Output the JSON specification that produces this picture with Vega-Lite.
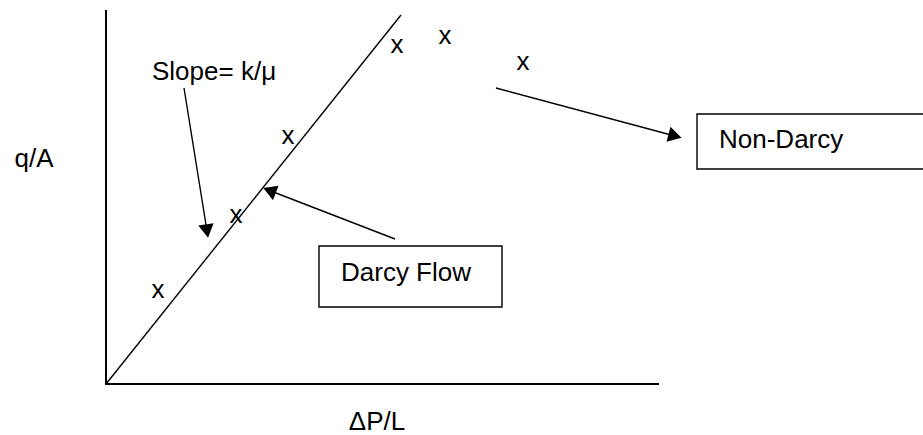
{
  "$schema": "https://vega.github.io/schema/vega-lite/v6.json",
  "width": 923,
  "height": 435,
  "padding": 0,
  "autosize": {"type": "fit", "contains": "padding"},
  "background": "white",
  "config": {"view": {"stroke": null}},
  "datasets": {
    "axes": [
      {"seg": "axes", "o": 0, "x": 0, "y": 7.48},
      {"seg": "axes", "o": 1, "x": 0, "y": 0},
      {"seg": "axes", "o": 2, "x": 11.06, "y": 0}
    ],
    "thin": [
      {"seg": "diag", "o": 0, "x": 0, "y": 0},
      {"seg": "diag", "o": 1, "x": 5.9, "y": 7.38},
      {"seg": "slope", "o": 0, "x": 1.56, "y": 5.92},
      {"seg": "slope", "o": 1, "x": 2.02, "y": 3.06},
      {"seg": "darcy", "o": 0, "x": 5.78, "y": 2.9},
      {"seg": "darcy", "o": 1, "x": 3.27, "y": 3.87},
      {"seg": "nondarcy", "o": 0, "x": 7.8, "y": 5.92},
      {"seg": "nondarcy", "o": 1, "x": 11.38, "y": 4.96}
    ],
    "heads": [
      {"x": 2.02, "y": 3.06, "dir": 171},
      {"x": 3.27, "y": 3.87, "dir": 291},
      {"x": 11.38, "y": 4.96, "dir": 105}
    ],
    "boxes": [
      {"box": "Darcy Flow", "x": 4.26, "x2": 7.92, "y": 1.54, "y2": 2.76},
      {"box": "Non-Darcy", "x": 11.82, "x2": 16.6, "y": 4.3, "y2": 5.4}
    ],
    "leftText": [
      {"label": "Slope= k/μ", "x": 0.92, "y": 6.24},
      {"label": "Darcy Flow", "x": 4.7, "y": 2.22},
      {"label": "Non-Darcy", "x": 12.26, "y": 4.88}
    ],
    "centerText": [
      {"label": "q/A", "x": -1.44, "y": 4.5},
      {"label": "ΔP/L", "x": 5.42, "y": -0.76},
      {"label": "x", "x": 5.82, "y": 6.78},
      {"label": "x", "x": 3.64, "y": 4.96},
      {"label": "x", "x": 2.6, "y": 3.38},
      {"label": "x", "x": 1.04, "y": 1.88},
      {"label": "x", "x": 6.78, "y": 6.96},
      {"label": "x", "x": 8.34, "y": 6.44}
    ]
  },
  "layer": [
    {
      "data": {"name": "axes"},
      "mark": {"type": "line", "color": "black", "strokeWidth": 2},
      "encoding": {
        "x": {"field": "x", "type": "quantitative", "scale": {"domain": [-2.12, 16.34], "nice": false, "zero": false}, "axis": null},
        "y": {"field": "y", "type": "quantitative", "scale": {"domain": [-1.02, 7.68], "nice": false, "zero": false}, "axis": null},
        "order": {"field": "o"},
        "detail": {"field": "seg"}
      }
    },
    {
      "data": {"name": "thin"},
      "mark": {"type": "line", "color": "black", "strokeWidth": 1.4},
      "encoding": {
        "x": {"field": "x", "type": "quantitative"},
        "y": {"field": "y", "type": "quantitative"},
        "order": {"field": "o"},
        "detail": {"field": "seg"}
      }
    },
    {
      "data": {"name": "heads"},
      "mark": {"type": "point", "shape": "triangle-up", "filled": true, "color": "black", "opacity": 1, "size": 240},
      "encoding": {
        "x": {"field": "x", "type": "quantitative"},
        "y": {"field": "y", "type": "quantitative"},
        "angle": {"field": "dir", "type": "quantitative", "scale": null}
      }
    },
    {
      "data": {"name": "boxes"},
      "mark": {"type": "rect", "fill": "white", "stroke": "black", "strokeWidth": 1.4, "clip": true},
      "encoding": {
        "x": {"field": "x", "type": "quantitative"},
        "x2": {"field": "x2"},
        "y": {"field": "y", "type": "quantitative"},
        "y2": {"field": "y2"}
      }
    },
    {
      "data": {"name": "leftText"},
      "mark": {"type": "text", "align": "left", "baseline": "middle", "font": "Liberation Sans", "fontSize": 26, "color": "black"},
      "encoding": {
        "x": {"field": "x", "type": "quantitative"},
        "y": {"field": "y", "type": "quantitative"},
        "text": {"field": "label"}
      }
    },
    {
      "data": {"name": "centerText"},
      "mark": {"type": "text", "align": "center", "baseline": "middle", "font": "Liberation Sans", "fontSize": 26, "color": "black"},
      "encoding": {
        "x": {"field": "x", "type": "quantitative"},
        "y": {"field": "y", "type": "quantitative"},
        "text": {"field": "label"}
      }
    }
  ]
}
